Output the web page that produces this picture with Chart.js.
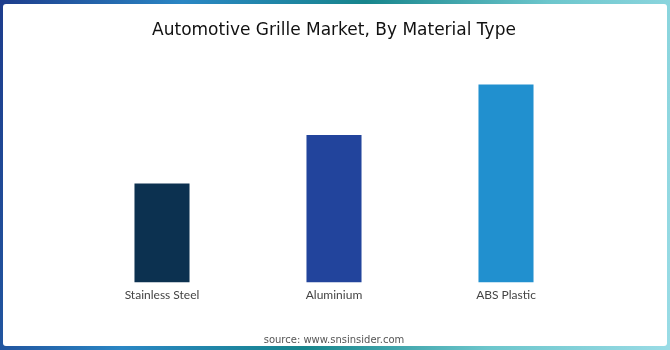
<!DOCTYPE html>
<html>
<head>
<meta charset="utf-8">
<script src="https://cdn.jsdelivr.net/npm/chart.js@4"></script>
<style>
  html, body { margin: 0; padding: 0; }
  #frame {
    position: relative; width: 670px; height: 350px; overflow: hidden;
    background: linear-gradient(100deg, #1d3c8c 0%, #2a86c4 25%, #17858c 50%, #6cc6cc 75%, #9adce6 100%);
  }
  #panel {
    position: absolute; left: 3px; top: 4px; width: 664px; height: 342px;
    background: #fff; border-radius: 3px;
  }
  #chart { position: absolute; left: 0; top: 0; }
</style>
</head>
<body>
<div id="frame">
  <div id="panel"></div>
  <canvas id="chart" width="670" height="350"></canvas>
</div>
<script>
// datos (cuota aproximada, %)
var categorias = ["Stainless Steel", "Aluminium", "ABS Plastic"];
var valores = [22.5, 33.5, 45];
var colores = ["#0c3150", "#22449c", "#2190cf"];

var ctx = document.getElementById('chart').getContext('2d');

var myChart = new Chart(ctx, {
  type: 'bar',
  data: {
    labels: categorias,
    datasets: [{
      data: valores,
      backgroundColor: colores,
      borderWidth: 0,
      barPercentage: 0.32,
      categoryPercentage: 1
    }]
  },
  options: {
    responsive: false,
    animation: false,
    layout: {
      padding: { left: 76, right: 78, top: 6, bottom: 4 }
    },
    scales: {
      x: {
        grid: { display: false, drawTicks: false },
        border: { display: false },
        ticks: {
          color: '#444',
          padding: 5,
          font: { family: 'Lato', size: 12 }
        }
      },
      y: {
        display: false,
        min: 0,
        max: 50
      }
    },
    plugins: {
      legend: { display: false },
      tooltip: { enabled: false },
      title: {
        display: true,
        text: 'Automotive Grille Market, By Material Type',
        color: '#111',
        font: { family: 'DejaVu Sans', size: 17, weight: 'normal' },
        padding: { top: 14, bottom: 22 }
      },
      subtitle: {
        display: true,
        position: 'bottom',
        text: 'source: www.snsinsider.com',
        color: '#555',
        font: { family: 'DejaVu Sans', size: 10 },
        padding: { top: 27, bottom: 0 }
      }
    }
  }
});
</script>
</body>
</html>
